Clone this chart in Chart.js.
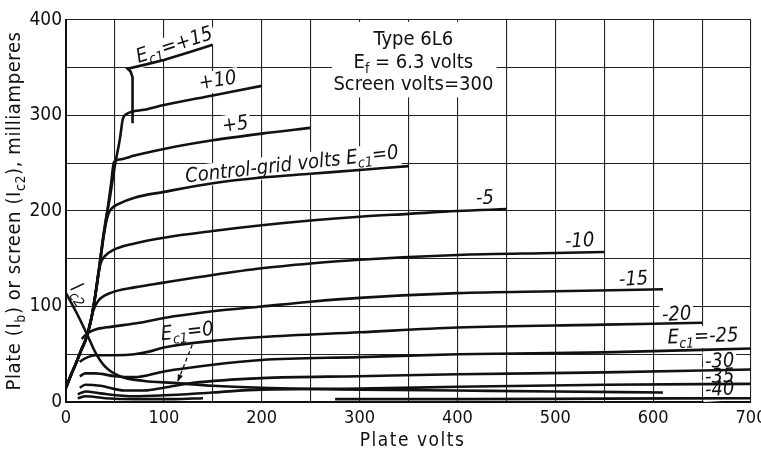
<!DOCTYPE html>
<html><head><meta charset="utf-8">
<script src="https://cdn.jsdelivr.net/npm/chart.js@4/dist/chart.umd.min.js"></script>
<style>html,body{margin:0;padding:0;background:#fff}#wrap{width:761px;height:451px}</style>
</head><body><div id="wrap"><canvas id="c" width="761" height="451"></canvas></div>
<script>
// ---- data (plate volts / milliamperes) ----
const xTickLabels = [0, 100, 200, 300, 400, 500, 600, 700];
const yTickLabels = [0, 100, 200, 300, 400];

const ec_p15_v = [68, 68, 66, 63, 80, 100, 125, 150];
const ec_p15_i = [292, 340, 346, 349, 353, 358, 366, 374];
const ec_p10_v = [0, 5, 10, 15, 21, 26, 30, 34, 40, 45, 50, 55, 58, 61, 80, 100, 150, 200];
const ec_p10_i = [15, 28, 40, 53, 68, 88, 112, 142, 187, 215, 248, 275, 296, 301, 306, 311, 321, 331];
const ec_p5_v = [0, 5, 10, 15, 21, 26, 30, 34, 38, 42, 46, 49, 55, 70, 100, 150, 200, 250];
const ec_p5_i = [15, 28, 40, 53, 68, 88, 112, 140, 170, 198, 228, 251, 254, 258, 265, 274, 281, 287];
const ec_0_v = [0, 5, 10, 15, 21, 26, 30, 34, 38, 43, 47, 55, 70, 100, 150, 200, 250, 300, 350];
const ec_0_i = [15, 28, 40, 53, 68, 88, 112, 140, 172, 196, 203, 208, 214, 220, 229, 235, 239, 243, 247];
const ec_m5_v = [0, 5, 10, 15, 21, 26, 30, 33, 36, 40, 48, 70, 100, 150, 200, 250, 300, 350, 400, 450];
const ec_m5_i = [15, 28, 40, 53, 68, 88, 112, 134, 147, 153, 159, 166, 172, 179, 185, 190, 194, 197, 200, 202];
const ec_m10_v = [0, 5, 10, 15, 21, 25, 28, 33, 45, 70, 100, 150, 200, 250, 300, 400, 500, 550];
const ec_m10_i = [15, 28, 40, 53, 68, 84, 96, 106, 114, 120, 125, 133, 140, 145, 149, 154, 156, 157];
const ec_m15_v = [16, 22, 30, 40, 55, 75, 100, 150, 200, 250, 300, 400, 500, 610];
const ec_m15_i = [66, 72, 76, 78, 80, 83, 88, 95, 100, 105, 109, 114, 116, 118];
const ec_m20_v = [14, 20, 30, 50, 70, 86, 100, 150, 200, 300, 400, 550, 650];
const ec_m20_i = [42, 46, 49, 49, 50, 53, 57, 64, 68, 73, 78, 81, 83];
const ec_m25_v = [14, 20, 30, 50, 70, 100, 150, 200, 300, 400, 550, 700];
const ec_m25_i = [27, 30, 30, 27, 26, 32, 39, 44, 47, 50, 52, 56];
const ec_m30_v = [14, 20, 35, 60, 80, 100, 130, 200, 300, 400, 550, 700];
const ec_m30_i = [15, 18, 17, 12, 12, 15, 20, 25, 27, 29, 31, 34];
const ec_m35_v = [12, 20, 35, 70, 100, 150, 200, 300, 400, 550, 700];
const ec_m35_i = [8, 11, 9, 6, 7, 10, 13, 14, 16, 18, 19];
const ec_m40_v = [12, 20, 40, 70, 110, 140, 230, 275, 400, 550, 700];
const ec_m40_i = [4, 6, 4, 3, 3, 4, null, 3, 3, 3.5, 4];
const screen_v = [0, 10, 21, 30, 40, 55, 80, 110, 150, 200, 300, 400, 500, 610];
const screen_i = [114, 95, 72, 52, 37, 27, 22, 20, 17, 15, 13, 12, 11, 10];

// ---- annotations (text + anchor in data units) ----
const curveLabels = [
  {t: 'E_{c1}=+15', v: 111, i: 373, rot: -18},
  {t: '+10', v: 155, i: 336, rot: -9},
  {t: '+5', v: 173, i: 290, rot: -8},
  {t: 'Control-grid volts E_{c1}=0', v: 231, i: 248, rot: -6.5},
  {t: '-5', v: 428, i: 213, rot: -3},
  {t: '-10', v: 525, i: 168, rot: -3},
  {t: '-15', v: 580, i: 128, rot: -3},
  {t: '-20', v: 624, i: 91, rot: -3},
  {t: 'E_{c1}=-25', v: 651, i: 68, rot: -2},
  {t: '-30', v: 668, i: 42, rot: -3},
  {t: '-35', v: 668, i: 26, rot: -3},
  {t: '-40', v: 668, i: 12.5, rot: -3}
];
const sideLabels = [
  {t: 'I_{c2}', v: 14, i: 113, rot: 55},
  {t: 'E_{c1}=0', v: 124, i: 73, rot: -6}
];
const boxV = [272, 440], boxI = [319, 398];
const boxLines = [
  {t: 'Type 6L6', v: 355, i: 379},
  {t: 'E_{f} = 6.3 volts', v: 355, i: 355},
  {t: 'Screen volts=300', v: 355, i: 332}
];
const arrowV = [129, 114], arrowI = [60, 21];

const FONT = '"DejaVu Sans Condensed", "DejaVu Sans", sans-serif';
const INK = '#111';

function parseRich(str){
  const out = []; const re = /_\{([^}]*)\}/g; let last = 0, m;
  while ((m = re.exec(str))){ if (m.index > last) out.push({t: str.slice(last, m.index)}); out.push({t: m[1], sub: true}); last = re.lastIndex; }
  if (last < str.length) out.push({t: str.slice(last)});
  return out;
}
function drawRich(ctx, str, x, y, o){
  const segs = parseRich(str);
  const st = o.italic ? 'italic ' : '';
  const fs = o.size, ss = Math.round(fs * 0.68);
  ctx.save(); ctx.translate(x, y); ctx.rotate((o.rot || 0) * Math.PI / 180);
  if ('letterSpacing' in ctx) ctx.letterSpacing = (o.ls || 0) + 'px';
  let w = 0;
  const ws = segs.map(s => { ctx.font = st + (s.sub ? ss : fs) + 'px ' + FONT; const m = ctx.measureText(s.t).width; w += m; return m; });
  if (o.bgOnly){ ctx.fillStyle = '#fff'; ctx.fillRect(-w/2 - 2, -fs*0.55, w + 4, fs*1.1); ctx.restore(); return; }
  let cx = -w/2;
  ctx.fillStyle = INK; ctx.textBaseline = 'middle'; ctx.textAlign = 'left';
  segs.forEach((s, k) => { ctx.font = st + (s.sub ? ss : fs) + 'px ' + FONT; ctx.fillText(s.t, cx, s.sub ? fs*0.32 : 0); cx += ws[k]; });
  ctx.restore();
}

const LBL = 20;
const annot = {
  id: 'annot',
  beforeDatasetsDraw(chart){
    const ctx = chart.ctx, xs = chart.scales.x, ys = chart.scales.y;
    ctx.save(); ctx.fillStyle = '#fff';
    const x1 = xs.getPixelForValue(boxV[0]), x2 = xs.getPixelForValue(boxV[1]);
    const y1 = ys.getPixelForValue(boxI[1]), y2 = ys.getPixelForValue(boxI[0]);
    ctx.fillRect(x1, y1, x2 - x1, y2 - y1);
    curveLabels.forEach(l => drawRich(ctx, l.t, xs.getPixelForValue(l.v), ys.getPixelForValue(l.i), {size: LBL, italic: true, rot: l.rot, bgOnly: true}));
    ctx.restore();
  },
  afterDatasetsDraw(chart){
    const ctx = chart.ctx, xs = chart.scales.x, ys = chart.scales.y;
    curveLabels.concat(sideLabels).forEach(l => drawRich(ctx, l.t, xs.getPixelForValue(l.v), ys.getPixelForValue(l.i), {size: LBL, italic: true, rot: l.rot}));
    boxLines.forEach(l => drawRich(ctx, l.t, xs.getPixelForValue(l.v), ys.getPixelForValue(l.i), {size: 20}));
    // dashed arrow
    const ax1 = xs.getPixelForValue(arrowV[0]), ay1 = ys.getPixelForValue(arrowI[0]);
    const ax2 = xs.getPixelForValue(arrowV[1]), ay2 = ys.getPixelForValue(arrowI[1]);
    ctx.save(); ctx.strokeStyle = INK; ctx.lineWidth = 1.3; ctx.setLineDash([4, 3]);
    ctx.beginPath(); ctx.moveTo(ax1, ay1); ctx.lineTo(ax2, ay2); ctx.stroke();
    ctx.setLineDash([]);
    const ang = Math.atan2(ay2 - ay1, ax2 - ax1);
    ctx.fillStyle = INK; ctx.beginPath();
    ctx.moveTo(ax2, ay2);
    ctx.lineTo(ax2 - 8*Math.cos(ang - 0.35), ay2 - 8*Math.sin(ang - 0.35));
    ctx.lineTo(ax2 - 8*Math.cos(ang + 0.35), ay2 - 8*Math.sin(ang + 0.35));
    ctx.closePath(); ctx.fill();
    ctx.restore();
  },
  afterDraw(chart){
    const ctx = chart.ctx, ca = chart.chartArea;
    drawRich(ctx, 'Plate (I_{b}) or screen (I_{c2}), milliamperes', 15, (ca.top + ca.bottom)/2, {size: 20, rot: -90, ls: 0.6});
    drawRich(ctx, 'Plate volts', (ca.left + ca.right)/2 + 4, 441, {size: 19, ls: 1.5});
  }
};

function ds(v, i, mono){
  return {
    data: v.map((x, k) => ({x: x, y: i[k]})),
    showLine: true, borderColor: INK, borderWidth: 2.6, pointRadius: 0, fill: false,
    spanGaps: false, tension: mono ? 0.4 : 0, cubicInterpolationMode: mono ? 'monotone' : 'default'
  };
}

new Chart(document.getElementById('c'), {
  type: 'scatter',
  data: { datasets: [
    ds(ec_p15_v, ec_p15_i, false),
    ds(ec_p10_v, ec_p10_i, true),
    ds(ec_p5_v, ec_p5_i, true),
    ds(ec_0_v, ec_0_i, true),
    ds(ec_m5_v, ec_m5_i, true),
    ds(ec_m10_v, ec_m10_i, true),
    ds(ec_m15_v, ec_m15_i, true),
    ds(ec_m20_v, ec_m20_i, true),
    ds(ec_m25_v, ec_m25_i, true),
    ds(ec_m30_v, ec_m30_i, true),
    ds(ec_m35_v, ec_m35_i, true),
    ds(ec_m40_v, ec_m40_i, true),
    ds(screen_v, screen_i, true)
  ]},
  options: {
    responsive: false, animation: false,
    layout: {padding: {left: 0, right: 10, top: 20, bottom: 0}},
    plugins: {legend: {display: false}, tooltip: {enabled: false}},
    scales: {
      x: {
        type: 'linear', min: 0, max: 700,
        ticks: {stepSize: 50, padding: 6, color: INK, font: {family: FONT, size: 18},
          callback: v => xTickLabels.includes(v) ? String(v) : ''},
        grid: {color: '#222', lineWidth: 1.1, drawTicks: false},
        border: {display: true, color: INK, width: 2},
        afterFit: s => { s.height = 49; s.paddingLeft = 0; s.paddingRight = 0; }
      },
      y: {
        type: 'linear', min: 0, max: 400,
        ticks: {stepSize: 50, padding: 4, color: INK, font: {family: FONT, size: 19},
          callback: v => yTickLabels.includes(v) ? String(v) : ''},
        grid: {color: '#222', lineWidth: 1.1, drawTicks: false},
        border: {display: true, color: INK, width: 2},
        afterFit: s => { s.width = 66; s.paddingTop = 0; s.paddingBottom = 0; }
      }
    }
  },
  plugins: [annot]
});
</script>
</body></html>
